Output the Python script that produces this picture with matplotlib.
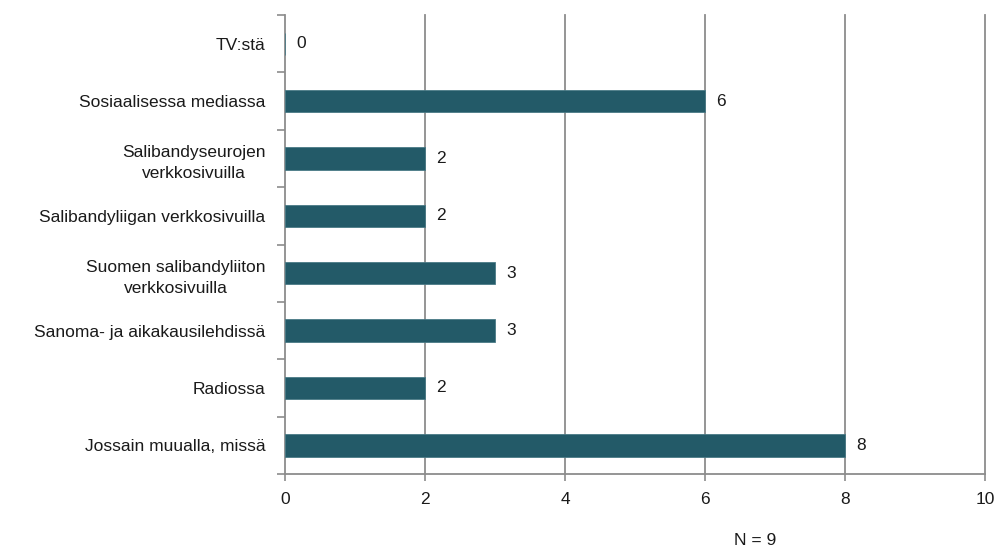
import numpy as np
import matplotlib.pyplot as plt

categories = [
    "TV:stä",
    "Sosiaalisessa mediassa",
    "Salibandyseurojen\nverkkosivuilla",
    "Salibandyliigan verkkosivuilla",
    "Suomen salibandyliiton\nverkkosivuilla",
    "Sanoma- ja aikakausilehdissä",
    "Radiossa",
    "Jossain muualla, missä",
]
counts = [0, 6, 2, 2, 3, 3, 2, 8]
xticks = [0, 2, 4, 6, 8, 10]
note = "N = 9"

bar_color = "#235a68"
line_color = "#8c8c8c"

plt.rcParams['font.family'] = ['Liberation Sans', 'DejaVu Sans']
plt.rcParams['font.size'] = 12.5

fig = plt.figure(figsize=(9.97, 5.59), dpi=100)
ax = fig.add_axes([0.2859, 0.152, 0.702, 0.821])

ypos = np.arange(len(categories))
ax.barh(ypos, counts, height=0.39, color=bar_color, edgecolor="#4a7a86",
        linewidth=0.6, zorder=3)

for y, v in zip(ypos, counts):
    ax.text(v + 0.16, y, str(v), va='center', ha='left', color='#1a1a1a')

ax.set_xlim(0, 10)
ax.set_ylim(len(categories) - 0.5, -0.5)
ax.set_xticks(xticks)
ax.set_xticklabels([str(t) for t in xticks])
ax.set_yticks(ypos)
ax.set_yticklabels(categories, ha='right', multialignment='center',
                   linespacing=1.5)
ax.set_yticks(np.arange(-0.5, len(categories)), minor=True)

ax.tick_params(axis='y', which='major', length=0, pad=14, colors='#1a1a1a')
ax.tick_params(axis='y', which='minor', length=6, width=1.2, color=line_color)
ax.tick_params(axis='x', length=5, width=1.2, color=line_color, pad=8,
               labelcolor='#1a1a1a')

for s in ['top', 'right']:
    ax.spines[s].set_visible(False)
for s in ['left', 'bottom']:
    ax.spines[s].set_color(line_color)
    ax.spines[s].set_linewidth(1.3)

for t in xticks[1:]:
    ax.axvline(t, color=line_color, linewidth=1.3, zorder=1, clip_on=False)

fig.text(0.757, 0.019, note, ha='center', va='bottom', color='#1a1a1a')

fig.savefig("out.png", dpi=100)
